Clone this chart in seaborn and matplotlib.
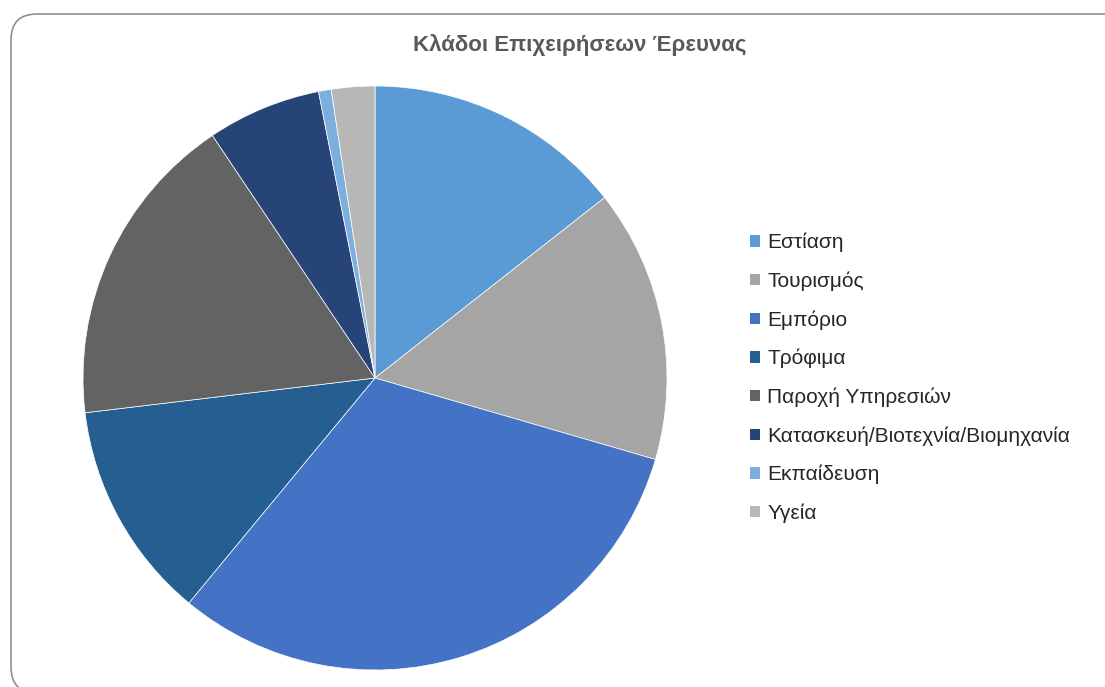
import matplotlib
matplotlib.use("Agg")
import matplotlib.pyplot as plt
from matplotlib.patches import FancyBboxPatch, Patch
from matplotlib.transforms import IdentityTransform
import seaborn as sns

# Share of surveyed businesses by sector (%)
sectors = [
    "Εστίαση",
    "Τουρισμός",
    "Εμπόριο",
    "Τρόφιμα",
    "Παροχή Υπηρεσιών",
    "Κατασκευή/Βιοτεχνία/Βιομηχανία",
    "Εκπαίδευση",
    "Υγεία",
]
shares = [14.4, 15.1, 31.5, 12.1, 17.5, 6.3, 0.7, 2.4]
colors = ["#5B9BD5", "#A5A5A5", "#4472C4", "#255E91",
          "#636363", "#264478", "#7CAFDD", "#B7B7B7"]
title = "Κλάδοι Επιχειρήσεων Έρευνας"

sns.set_theme(style="white")
plt.rcParams["font.family"] = ["Liberation Sans", "DejaVu Sans"]

W, H, DPI = 1105, 687, 100
fig = plt.figure(figsize=(W / DPI, H / DPI), dpi=DPI)
fig.patch.set_facecolor("white")

# Rounded chart-area frame (pixel coordinates)
frame = FancyBboxPatch((11, -6), 1120, H - 14 + 6,
                       boxstyle="round,pad=0,rounding_size=26",
                       transform=IdentityTransform(), facecolor="none",
                       edgecolor="#8f8f8f", linewidth=1.2, zorder=5)
fig.patches.append(frame)

cx, cy, r = 375, 378, 292
ax = fig.add_axes([(cx - r) / W, (H - cy - r) / H, 2 * r / W, 2 * r / H])
wedges, _ = ax.pie(shares, colors=colors, startangle=90, counterclock=False,
                   radius=1, wedgeprops=dict(edgecolor="white", linewidth=0.5))
ax.set_xlim(-1, 1)
ax.set_ylim(-1, 1)
ax.set_aspect("equal")
ax.axis("off")

fig.text(580 / W, 1 - 45 / H, title, ha="center", va="center",
         fontsize=16, fontweight="bold", color="#595959")

handles = [Patch(facecolor=c, edgecolor="none") for c in colors]
fig.legend(handles, sectors, loc="center left",
           bbox_to_anchor=(742 / W, 1 - 378 / H), frameon=False,
           fontsize=15, handlelength=0.48, handleheight=0.48,
           handletextpad=0.34, labelspacing=0.92, borderaxespad=0,
           labelcolor="#262626")

fig.savefig("out.png", dpi=DPI, facecolor="white")
